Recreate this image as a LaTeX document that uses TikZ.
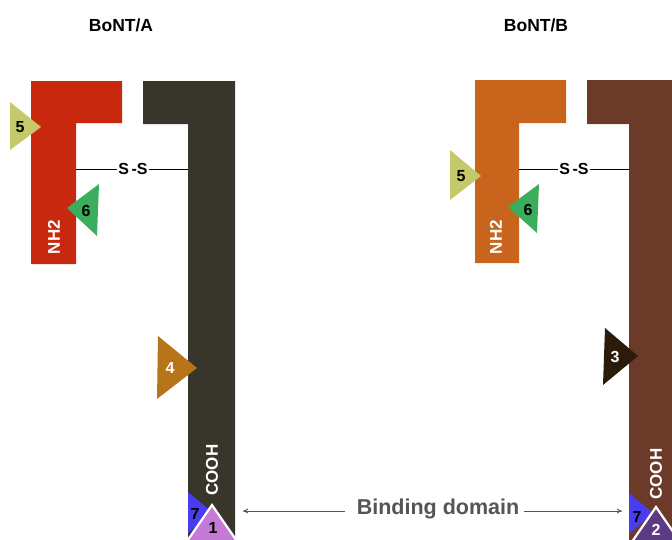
\documentclass[tikz,border=0pt]{standalone}
\usepackage{fontspec}
\setmainfont{Liberation Sans}
\usetikzlibrary{arrows.meta}
\definecolor{lcA}{HTML}{C8290E}
\definecolor{hcA}{HTML}{38352A}
\definecolor{lcB}{HTML}{C9641C}
\definecolor{hcB}{HTML}{6B3A28}
\definecolor{tfive}{HTML}{C5C96A}
\definecolor{tsix}{HTML}{3AAE5C}
\definecolor{tfour}{HTML}{B87418}
\definecolor{tthree}{HTML}{2B1B0B}
\definecolor{tseven}{HTML}{4A3DF0}
\definecolor{tone}{HTML}{C57AD8}
\definecolor{ttwo}{HTML}{5C3A84}
\definecolor{bdgray}{HTML}{555555}
\begin{document}
\begin{tikzpicture}[x=1pt,y=-1pt,
  title/.style={font=\fontsize{17.5}{20}\selectfont\bfseries},
  numlbl/.style={font=\fontsize{16}{18}\selectfont\bfseries,inner sep=0pt},
  termlbl/.style={font=\fontsize{17}{19}\selectfont\bfseries,text=white,rotate=90,inner sep=0pt},
  sslbl/.style={font=\fontsize{16}{18}\selectfont\bfseries,fill=white,inner sep=1pt},
  ssline/.style={line width=1pt,black},
  bdarrow/.style={bdgray,line width=0.9pt,-{To[length=5pt,width=5pt]}},
  nodetri/.style={draw=white,line width=2.2pt,line join=miter}
]
\useasboundingbox (0,0) rectangle (672,539);
% ---------- BoNT/A ----------
\node[title] (tA) at (121,25) {BoNT/A};
\fill[lcA] (31,81) -- (122,81) -- (122,123) -- (76,123) -- (76,264) -- (31,264) -- cycle;
\fill[hcA] (143,81) -- (235,81) -- (235,545) -- (188,545) -- (188,124) -- (143,124) -- cycle;
\coordinate (ssAl) at (76,169);
\coordinate (ssAr) at (188,169);
\draw[ssline] (ssAl) -- (ssAr);
\node[sslbl] (ssA) at (133,169) {S\,-S};
\node[termlbl] (nhA) at (54,237) {NH2};
\node[termlbl] (coA) at (212,470) {COOH};
% triangle 5
\fill[tfive] (10,102) -- (41,127) -- (10,150) -- cycle;
\node[numlbl] (t5A) at (20,127) {5};
% triangle 6
\fill[tsix] (67,208) -- (99,184) -- (97,236) -- cycle;
\node[numlbl] (t6A) at (86,211) {6};
% triangle 4
\fill[tfour] (158,336) -- (197,368) -- (157,399) -- cycle;
\node[numlbl,text=white] (t4A) at (170,368) {4};
% triangle 7
\fill[tseven] (188,492) -- (213,513) -- (188,533) -- cycle;
\node[numlbl] (t7A) at (195,514) {7};
% triangle 1
\filldraw[fill=tone,nodetri] (212,505) -- (250,560) -- (174,560) -- cycle;
\node[numlbl] (t1A) at (213,528) {1};
% ---------- BoNT/B ----------
\node[title] (tB) at (536,25) {BoNT/B};
\fill[lcB] (475,80) -- (566,80) -- (566,123) -- (519,123) -- (519,263) -- (475,263) -- cycle;
\fill[hcB] (587,80) -- (690,80) -- (690,545) -- (629,545) -- (629,124) -- (587,124) -- cycle;
\coordinate (ssBl) at (519,169);
\coordinate (ssBr) at (629,169);
\draw[ssline] (ssBl) -- (ssBr);
\node[sslbl] (ssB) at (574,169) {S\,-S};
\node[termlbl] (nhB) at (496,237) {NH2};
\node[termlbl] (coB) at (656,474) {COOH};
% triangle 5
\fill[tfive] (450,150) -- (481,176) -- (450,200) -- cycle;
\node[numlbl] (t5B) at (461,176) {5};
% triangle 6
\fill[tsix] (508,207) -- (539,184) -- (537,233) -- cycle;
\node[numlbl] (t6B) at (528,210) {6};
% triangle 3
\fill[tthree] (605,328) -- (638,356) -- (603,385) -- cycle;
\node[numlbl,text=white] (t3B) at (615,357) {3};
% triangle 7
\fill[tseven] (629,493) -- (653,513) -- (629,534) -- cycle;
\node[numlbl] (t7B) at (637,517) {7};
% triangle 2
\filldraw[fill=ttwo,nodetri] (656,507) -- (694,562) -- (618,562) -- cycle;
\node[numlbl,text=white] (t2B) at (656,530) {2};
% ---------- Binding domain ----------
\node[font=\fontsize{21.5}{24}\selectfont\bfseries,text=bdgray,inner sep=2pt] (bd) at (438,509) {Binding domain};
\coordinate (bdl) at (243,511);
\coordinate (bdr) at (622,511);
\draw[bdarrow] (bd.west |- bdl) ++(-10,0) -- (bdl);
\draw[bdarrow] (bd.east |- bdr) ++(3,0) -- (bdr);
\end{tikzpicture}
\end{document}
